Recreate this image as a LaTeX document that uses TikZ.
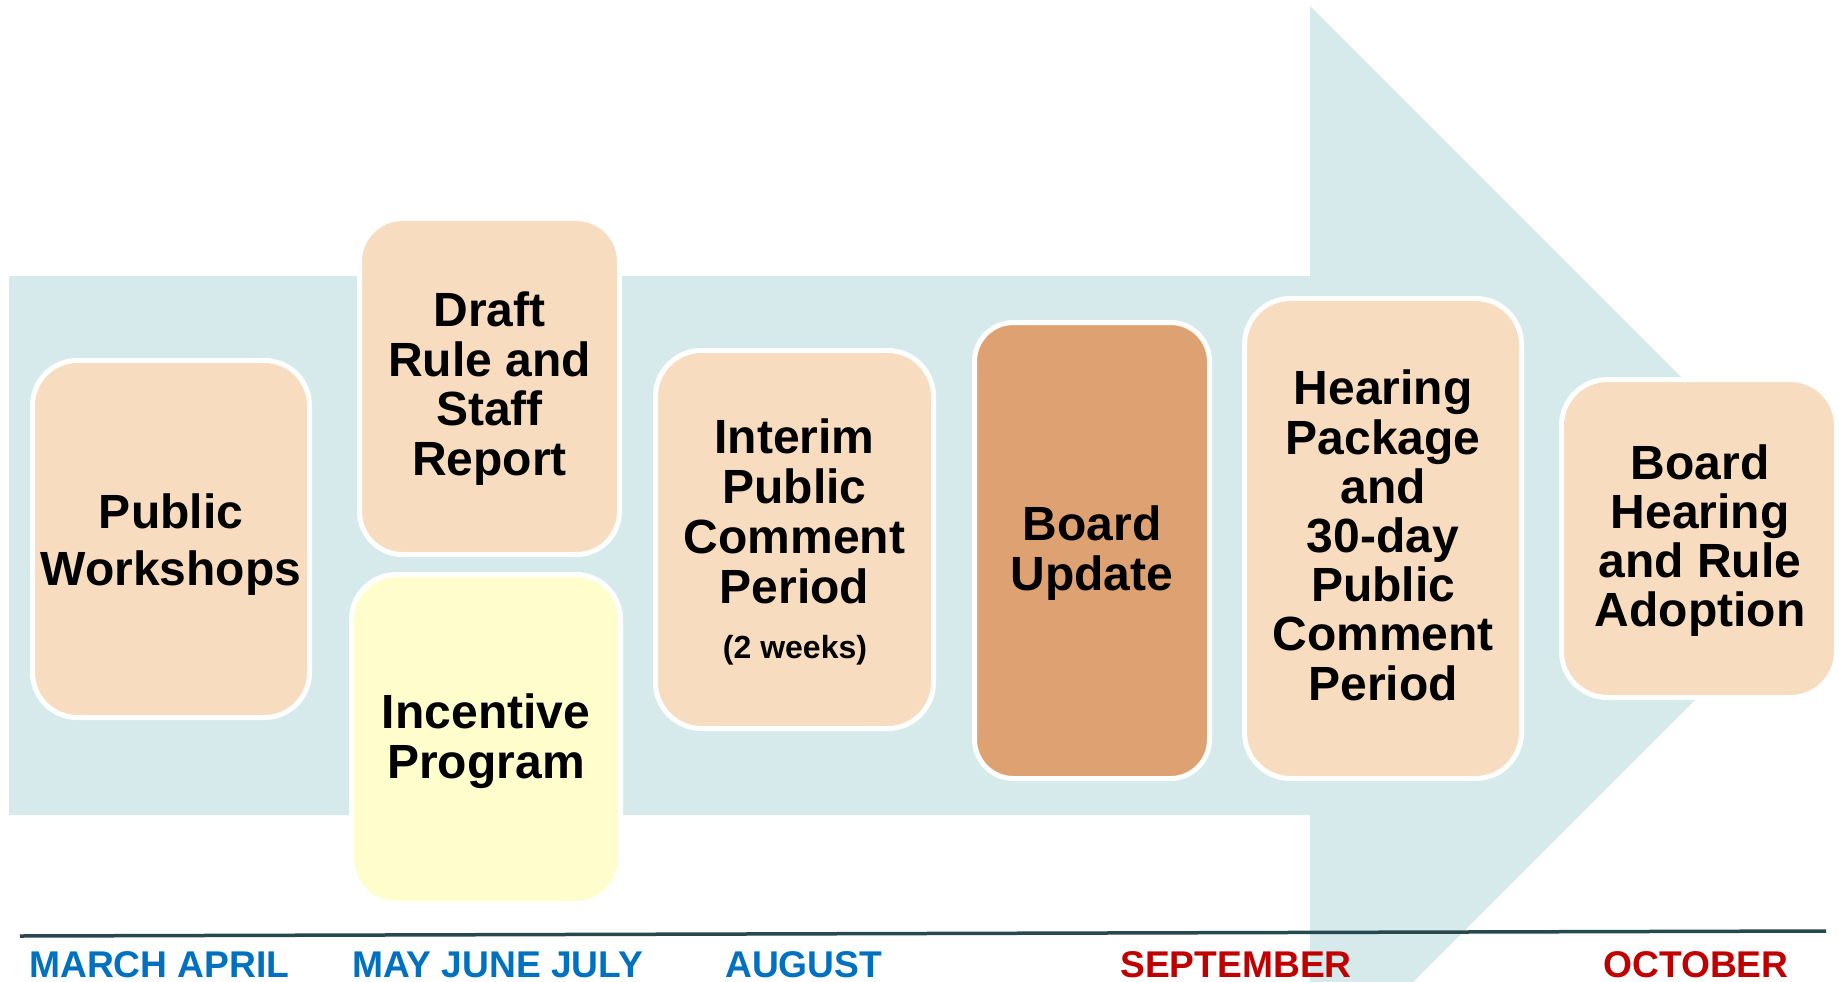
\documentclass[tikz,border=0pt]{standalone}
\usepackage{fontspec}
\setmainfont{Liberation Sans}
\definecolor{shaft}{RGB}{214,234,235}
\definecolor{peach}{RGB}{248,220,192}
\definecolor{tan}{RGB}{222,162,114}
\definecolor{paleyellow}{RGB}{255,253,204}
\definecolor{tline}{RGB}{38,72,78}
\definecolor{mblue}{RGB}{0,112,192}
\definecolor{mred}{RGB}{192,0,0}
\begin{document}
\begin{tikzpicture}[x=1pt,y=-1pt,
  box/.style={draw=white, line width=5pt, rounded corners=#1, inner sep=0pt, outer sep=0pt, rectangle},
  lbl/.style={font=\fontsize{48}{49.5}\selectfont\bfseries, align=center, inner sep=0pt, anchor=north, text=black},
  mon/.style={font=\fontsize{37.2}{40}\selectfont\bfseries, inner sep=0pt, anchor=base west}]
\useasboundingbox[fill=white] (0,0) rectangle (1839,982);
% big arrow
\fill[shaft] (9,276) -- (1310,276) -- (1310,6) -- (1849.5,545.5) -- (1310,1085) -- (1310,815) -- (9,815) -- cycle;
% boxes
\node[box=45, fill=peach, minimum width=277pt, minimum height=357pt] (pw) at (171,539) {};
\node[box=43, fill=peach, minimum width=260pt, minimum height=336pt] (draft) at (489.5,386.5) {};
\node[box=45, fill=paleyellow, minimum width=269pt, minimum height=329pt] (incentive) at (486,739) {};
\node[box=46, fill=peach, minimum width=278pt, minimum height=378pt] (interim) at (794.5,539.5) {};
\node[box=39, fill=tan, minimum width=235pt, minimum height=456pt] (update) at (1092,550.5) {};
\node[box=46, fill=peach, minimum width=277pt, minimum height=480pt] (hearing) at (1383,538.5) {};
\node[box=46, fill=peach, minimum width=275pt, minimum height=318pt] (adoption) at (1699,538.5) {};
% texts
\node[lbl, font=\fontsize{48}{57.4}\selectfont\bfseries] (tpw) at (171,493.6) {Public\\Workshops};
\node[lbl] (tdraft) at (489.5,291.6) {Draft\\Rule and\\Staff\\Report};
\node[lbl] (tincentive) at (486,693.6) {Incentive\\Program};
\node[lbl, font=\fontsize{48}{50}\selectfont\bfseries] (tinterim) at (794.5,418.6) {Interim\\Public\\Comment\\Period};
\node[font=\fontsize{32}{36}\selectfont\bfseries, inner sep=0pt, anchor=base] (tweeks) at (795,658) {(2 weeks)};
\node[lbl, font=\fontsize{48}{50}\selectfont\bfseries] (tupdate) at (1092,505.6) {Board\\Update};
\node[lbl, font=\fontsize{48}{49.2}\selectfont\bfseries] (thearing) at (1383,370) {Hearing\\Package\\and\\30-day\\Public\\Comment\\Period};
\node[lbl, font=\fontsize{48}{49}\selectfont\bfseries] (tadoption) at (1700,444.6) {Board\\Hearing\\and Rule\\Adoption};
% timeline
\coordinate (tl1) at (20,936);
\coordinate (tl2) at (1826,931);
\draw[tline, line width=3.5pt] (tl1) -- (tl2);
\node[mon, text=mblue] (m1) at (29,977) {MARCH APRIL};
\node[mon, text=mblue] (m2) at (352,977) {MAY JUNE JULY};
\node[mon, text=mblue] (m3) at (725,977) {AUGUST};
\node[mon, text=mred] (m4) at (1120,977) {SEPTEMBER};
\node[mon, text=mred] (m5) at (1603,977) {OCTOBER};
\end{tikzpicture}
\end{document}
